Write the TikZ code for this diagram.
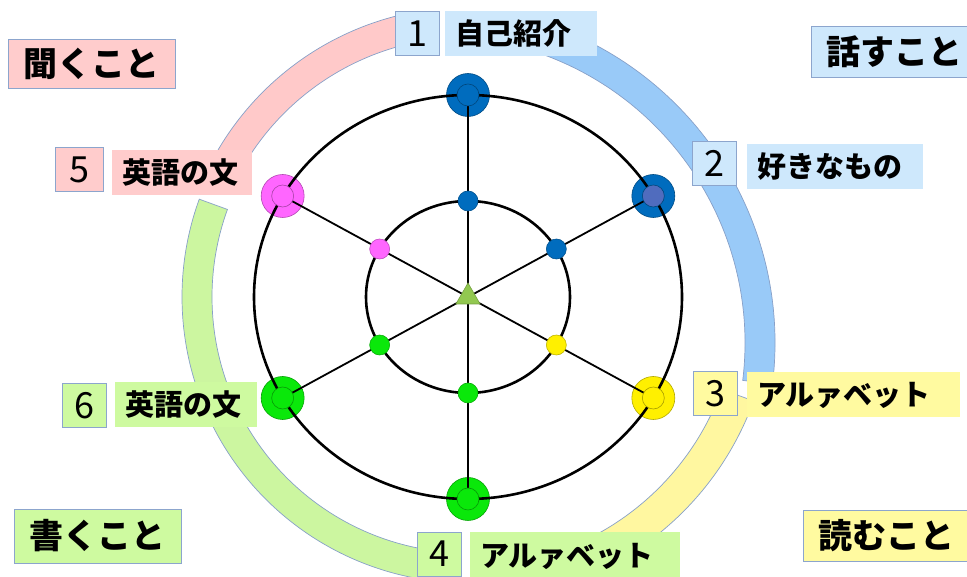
\documentclass[tikz,border=0pt]{standalone}
\usepackage{fontspec}
\setmainfont{Noto Sans CJK JP}
\usetikzlibrary{shapes.geometric}

\definecolor{bandpink}{RGB}{255,201,201}
\definecolor{bandblue}{RGB}{153,202,248}
\definecolor{bandyellow}{RGB}{255,247,160}
\definecolor{bandgreen}{RGB}{204,246,160}
\definecolor{bandline}{RGB}{135,160,200}
\definecolor{boxline}{RGB}{140,165,205}
\definecolor{lpink}{RGB}{255,204,204}
\definecolor{lblue}{RGB}{206,232,252}
\definecolor{lyellow}{RGB}{255,250,160}
\definecolor{lgreen}{RGB}{206,250,160}
\definecolor{nodeblue}{RGB}{0,108,190}
\definecolor{hubblue}{RGB}{80,108,190}
\definecolor{nodeyellow}{RGB}{255,240,0}
\definecolor{nodegreen}{RGB}{10,232,10}
\definecolor{nodepink}{RGB}{255,102,255}
\definecolor{tricolor}{RGB}{146,200,80}

\begin{document}
\begin{tikzpicture}[x=1pt,y=1pt,
  band/.style={draw=bandline,line width=0.7pt},
  wheel/.style={line width=2.6pt},
  spoke/.style={line width=1.8pt},
  dot/.style={circle,inner sep=0pt,outer sep=0pt,minimum size=#1,line width=0.6pt},
  numbox/.style={fill=#1,draw=boxline,line width=0.8pt,inner sep=0pt,
    minimum width=44,minimum height=44,font=\fontsize{36}{36}\selectfont},
  tagbox/.style={fill=#1,anchor=west,inner xsep=10pt,inner ysep=0pt,
    minimum height=45,align=left,font=\bfseries\fontsize{29}{30}\selectfont},
  areabox/.style={fill=#1,draw=boxline,line width=0.8pt,inner sep=0pt,
    minimum width=167,minimum height=51,font=\bfseries\fontsize{34}{34}\selectfont}]
\useasboundingbox (0,0) rectangle (967,577);

% the four bands
\begin{scope}[shift={(468,280)}]
\filldraw[band,fill=bandpink] (100:290) arc[start angle=100,end angle=150,radius=290]
  -- (150:260) arc[start angle=150,end angle=100,radius=260] -- cycle;
\filldraw[band,fill=bandgreen] (160:286) arc[start angle=160,end angle=262,radius=286]
  -- (262:256) arc[start angle=262,end angle=160,radius=256] -- cycle;
\filldraw[band,fill=bandyellow] (-68:304) arc[start angle=-68,end angle=-20,radius=304]
  -- (-20:270) arc[start angle=-20,end angle=-68,radius=270] -- cycle;
\end{scope}
\begin{scope}[shift={(438,234)}]
\filldraw[band,fill=bandblue] (-7:337) arc[start angle=-7,end angle=75,radius=337]
  -- (75:307) arc[start angle=75,end angle=-7,radius=307] -- cycle;
\end{scope}

% the wheel
\begin{scope}[shift={(468,280)}]
\coordinate (ctr) at (0,0);
\foreach \a/\c/\n in {90/nodeblue/1,30/nodeblue/2,-30/nodeyellow/3,
                      -90/nodegreen/4,150/nodepink/5,210/nodegreen/6}
  \node[dot=43,fill=\c,draw=\c!70!black] (o\n) at (\a:214 and 202) {};
\draw[wheel] (ctr) ellipse[x radius=214,y radius=202];
\draw[wheel] (ctr) ellipse[x radius=102,y radius=96];
\foreach \n in {1,...,6}
  \draw[spoke] (ctr) -- (o\n.center);
\foreach \a/\c/\h/\n in {90/nodeblue/nodeblue/1,30/nodeblue/hubblue/2,
                         -30/nodeyellow/nodeyellow/3,-90/nodegreen/nodegreen/4,
                         150/nodepink/nodepink/5,210/nodegreen/nodegreen/6}{
  \node[dot=22,fill=\h,draw=\c!65!black] (h\n) at (o\n.center) {};
  \node[dot=20,fill=\c,draw=\c!75!black] (i\n) at (\a:102 and 96) {};
}
\node[regular polygon,regular polygon sides=3,minimum size=28,inner sep=0pt,
  fill=tricolor,draw=tricolor!80!black,line width=0.6pt] (tri) at (ctr) {};
\end{scope}

% step labels
\node[numbox=lblue] (num1) at (417.5,543.5) {1};
\node[tagbox=lblue,text width=132] (tag1) at (445,543.5) {自己紹介};
\node[numbox=lblue] (num2) at (714,413.5) {2};
\node[tagbox=lblue,text width=156] (tag2) at (747,410) {好きなもの};
\node[numbox=lyellow] (num3) at (715,183.5) {3};
\node[tagbox=lyellow,text width=193] (tag3) at (747,182) {アルァベット};
\node[numbox=lgreen] (num4) at (439,23) {4};
\node[tagbox=lgreen,text width=190,minimum height=48] (tag4) at (470,21) {アルァベット};
\node[numbox=lpink,minimum width=48] (num5) at (79,407.5) {5};
\node[tagbox=lpink,text width=120] (tag5) at (112,404.5) {英語の文};
\node[numbox=lgreen] (num6) at (84,171.5) {6};
\node[tagbox=lgreen,text width=122] (tag6) at (115,172) {英語の文};

% skill areas
\node[areabox=lpink,minimum height=49] (listen) at (91.5,513.5) {聞くこと};
\node[areabox=lblue] (speak) at (894.5,525.5) {話すこと};
\node[areabox=lyellow] (read) at (886.5,41) {読むこと};
\node[areabox=lgreen,minimum height=54] (write) at (97.5,41) {書くこと};
\end{tikzpicture}
\end{document}
